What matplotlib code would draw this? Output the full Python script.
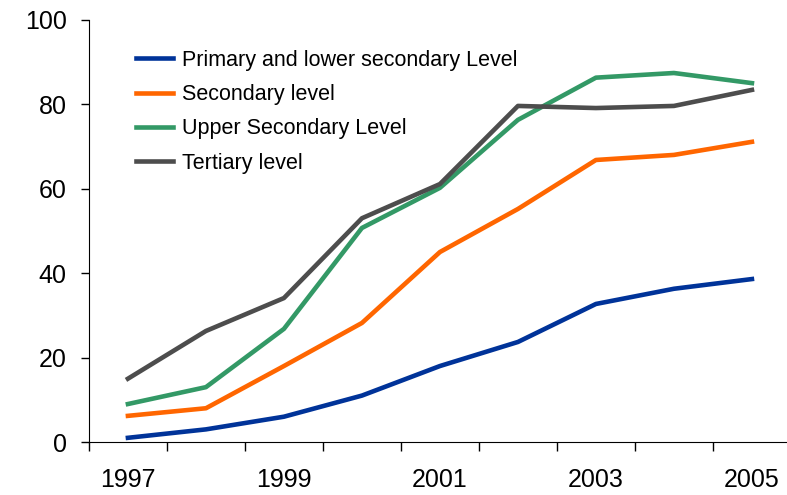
import matplotlib
matplotlib.use("Agg")
import matplotlib.pyplot as plt

years = [1997, 1998, 1999, 2000, 2001, 2002, 2003, 2004, 2005]
primary = [1.0, 3.0, 6.0, 11.0, 18.0, 23.7, 32.7, 36.3, 38.6]
secondary = [6.2, 8.0, 18.0, 28.2, 45.0, 55.2, 66.8, 68.0, 71.1]
upper_secondary = [9.0, 13.0, 26.8, 50.7, 60.2, 76.3, 86.3, 87.4, 85.0]
tertiary = [15.0, 26.3, 34.1, 53.0, 61.1, 79.6, 79.1, 79.6, 83.4]

plt.rcParams['font.family'] = ['Liberation Sans', 'DejaVu Sans']

fig = plt.figure(figsize=(7.87, 4.95), dpi=100)
ax = fig.add_axes([0.113, 0.107, 0.892, 0.853])

x = list(range(len(years)))
ax.plot(x, primary, color='#003399', lw=3.3, label='Primary and lower secondary Level')
ax.plot(x, secondary, color='#FF6600', lw=3.3, label='Secondary level')
ax.plot(x, upper_secondary, color='#339966', lw=3.3, label='Upper Secondary Level')
ax.plot(x, tertiary, color='#4D4D4D', lw=3.3, label='Tertiary level')

ax.set_xlim(-0.5, len(years) - 0.5)
ax.set_ylim(0, 100)
ax.set_yticks([0, 20, 40, 60, 80, 100])

# tick marks between categories, labels on every other year
ax.set_xticks([i - 0.5 for i in range(len(years) + 1)])
ax.set_xticklabels([])
ax.set_xticks(x[::2], minor=True)
ax.set_xticklabels([str(y) for y in years[::2]], minor=True)
ax.tick_params(axis='x', which='minor', length=0, pad=19, labelsize=18)
ax.tick_params(axis='x', which='major', length=6.5, width=1, direction='out')
ax.tick_params(axis='y', length=6, width=1, pad=10, labelsize=18)

for s in ['top', 'right']:
    ax.spines[s].set_visible(False)

ax.legend(loc='upper left', bbox_to_anchor=(0.04, 0.975), frameon=False,
          fontsize=15.5, handlelength=1.7, handletextpad=0.4, labelspacing=0.62)

fig.savefig('out.png', dpi=100)
